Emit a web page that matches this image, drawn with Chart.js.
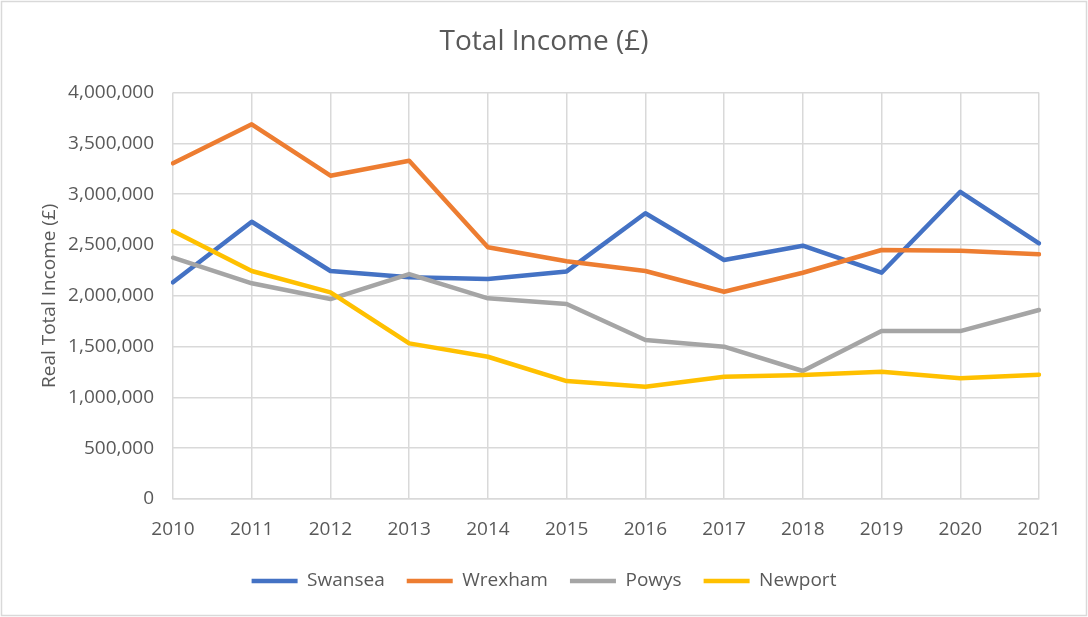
<!DOCTYPE html>
<html>
<head>
<meta charset="utf-8">
<script src="https://cdn.jsdelivr.net/npm/chart.js@4.4.1/dist/chart.umd.min.js"></script>
<style>
  body { margin: 0; background: #fff; }
  #wrap { width: 1088px; height: 617px; }
</style>
</head>
<body>
<div id="wrap"><canvas id="income"></canvas></div>
<script>
// data
var years = ['2010', '2011', '2012', '2013', '2014', '2015', '2016', '2017', '2018', '2019', '2020', '2021'];
var swansea = [2133000, 2729000, 2244000, 2182000, 2165000, 2240000, 2812000, 2352000, 2493000, 2227000, 3024000, 2516000];
var wrexham = [3304000, 3688000, 3182000, 3330000, 2477000, 2340000, 2244000, 2040000, 2227000, 2451000, 2444000, 2408000];
var powys = [2375000, 2123000, 1968000, 2214000, 1975000, 1919000, 1565000, 1499000, 1260000, 1653000, 1653000, 1860000];
var newport = [2638000, 2244000, 2034000, 1532000, 1400000, 1161000, 1105000, 1204000, 1220000, 1253000, 1188000, 1224000];
var yTicks = [0, 500000, 1000000, 1500000, 2000000, 2500000, 3000000, 3500000, 4000000];

var txt = '#595959';
var grid = '#d9d9d9';
Chart.defaults.font.family = "'Open Sans', sans-serif";
Chart.defaults.color = txt;

// grey frame round the whole chart
var frame = {
  id: 'frame',
  beforeDraw: function(chart) {
    var c = chart.ctx;
    c.save();
    c.fillStyle = '#fff';
    c.fillRect(0, 0, chart.width, chart.height);
    c.strokeStyle = grid;
    c.lineWidth = 1.5;
    c.strokeRect(1.5, 1.5, chart.width - 3, chart.height - 3);
    c.restore();
  }
};

function serie(label, data, colour, order) {
  return {
    label: label,
    data: data,
    borderColor: colour,
    backgroundColor: colour,
    borderWidth: 4.5,
    borderCapStyle: 'round',
    borderJoinStyle: 'round',
    pointRadius: 0,
    tension: 0,
    order: order
  };
}

var ctx = document.getElementById('income').getContext('2d');
var incomeChart = new Chart(ctx, {
  type: 'line',
  data: {
    labels: years,
    datasets: [
      serie('Swansea', swansea, '#4472C4', 4),
      serie('Wrexham', wrexham, '#ED7D31', 3),
      serie('Powys', powys, '#A5A5A5', 2),
      serie('Newport', newport, '#FFC000', 1)
    ]
  },
  options: {
    responsive: true,
    maintainAspectRatio: false,
    animation: false,
    layout: { padding: { left: 49, right: 49, top: 0, bottom: 16.5 } },
    plugins: {
      title: {
        display: true,
        text: 'Total Income (£)',
        color: txt,
        font: { size: 28, weight: 'normal' },
        padding: { top: 25, bottom: 34 }
      },
      legend: {
        position: 'bottom',
        labels: {
          color: txt,
          font: { size: 19 },
          usePointStyle: true,
          pointStyle: 'line',
          pointStyleWidth: 46,
          padding: 22,
          sort: function(a, b) { return a.datasetIndex - b.datasetIndex; }
        }
      },
      tooltip: { enabled: false }
    },
    scales: {
      x: {
        offset: false,
        grid: { color: grid, lineWidth: 1.5, drawTicks: false },
        border: { color: grid, width: 1.5 },
        ticks: { font: { size: 19 }, color: txt, padding: 19, maxRotation: 0 },
        afterFit: function(s) { s.height = 50.5; }
      },
      y: {
        min: 0,
        max: 4000000,
        afterBuildTicks: function(s) { s.ticks = yTicks.map(function(v) { return { value: v }; }); },
        grid: { color: grid, lineWidth: 1.5, drawTicks: false },
        border: { display: false },
        ticks: {
          font: { size: 19 },
          color: txt,
          padding: 19,
          callback: function(v) { return Number(v).toLocaleString('en-US'); }
        },
        title: {
          display: true,
          text: 'Real Total Income (£)',
          color: txt,
          font: { size: 19 },
          padding: { top: -11, bottom: 0 }
        },
        afterFit: function(s) { s.width = 124; }
      }
    }
  },
  plugins: [frame]
});
</script>
</body>
</html>
